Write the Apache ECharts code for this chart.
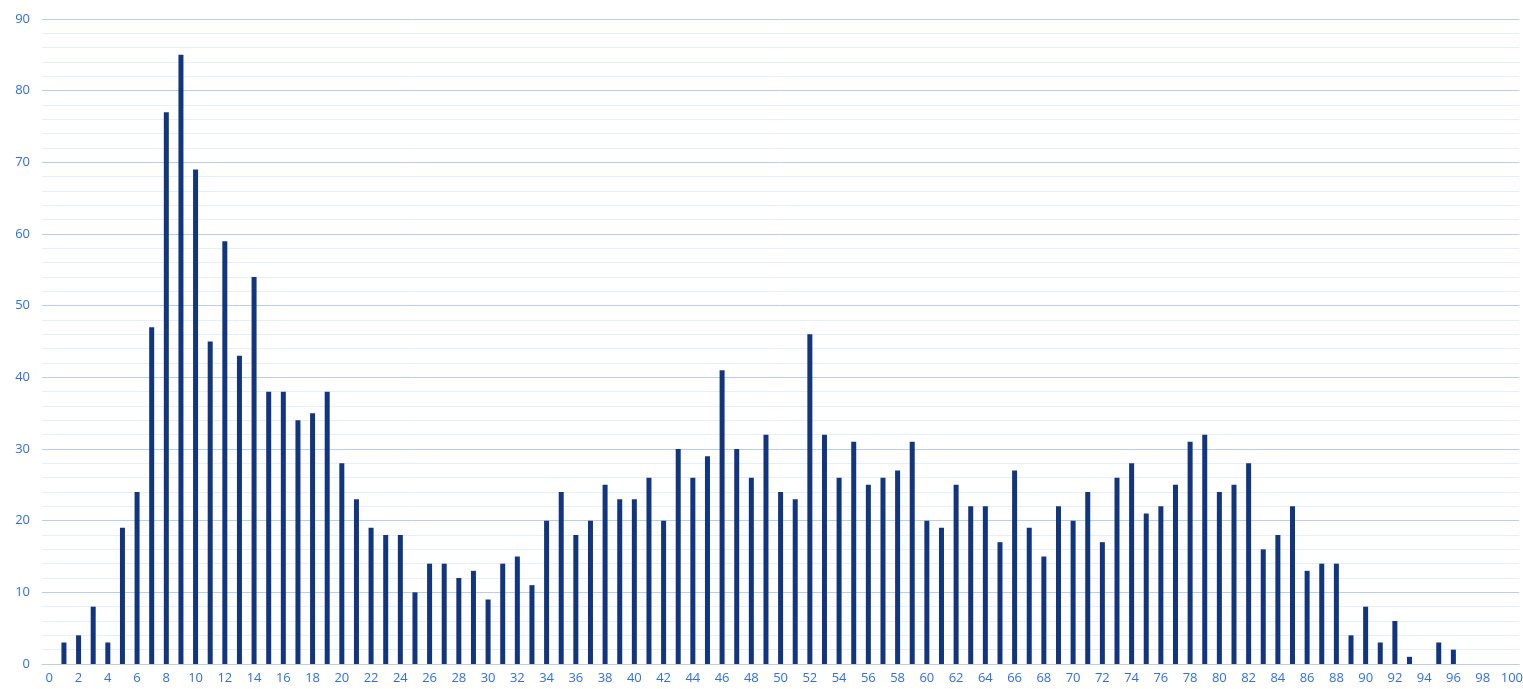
<!DOCTYPE html>
<html>
<head>
<meta charset="utf-8">
<script src="https://cdn.jsdelivr.net/npm/echarts@6/dist/echarts.min.js"></script>
<style>
  html, body { margin: 0; padding: 0; background: #fff; overflow: hidden; }
  #chart { width: 1526px; height: 689px; }
</style>
</head>
<body>
<div id="chart"></div>
<script>
// categories 0..100
var categories = [];
for (var i = 0; i <= 100; i++) categories.push(String(i));

// bar heights, one per category
var counts = [
  0, 3, 4, 8, 3, 19, 24, 47, 77, 85,
  69, 45, 59, 43, 54, 38, 38, 34, 35, 38,
  28, 23, 19, 18, 18, 10, 14, 14, 12, 13,
  9, 14, 15, 11, 20, 24, 18, 20, 25, 23,
  23, 26, 20, 30, 26, 29, 41, 30, 26, 32,
  24, 23, 46, 32, 26, 31, 25, 26, 27, 31,
  20, 19, 25, 22, 22, 17, 27, 19, 15, 22,
  20, 24, 17, 26, 28, 21, 22, 25, 31, 32,
  24, 25, 28, 16, 18, 22, 13, 14, 14, 4,
  8, 3, 6, 1, 0, 3, 2, 0, 0, 0,
  0
];

var yMax = 90;
var yStep = 10;

var labelColor = "#2f6fe4";
var font = "'Open Sans', 'Noto Sans', sans-serif";

var myChart = echarts.init(document.getElementById("chart"));

var option = {
  animation: false,
  grid: { left: 42, right: 0, top: 19, bottom: 25, containLabel: false },
  xAxis: {
    type: "category",
    data: categories,
    boundaryGap: true,
    axisLine: { show: true, lineStyle: { color: "#b8cdf4", width: 1 } },
    axisTick: { show: false },
    axisLabel: {
      interval: 1,
      color: labelColor,
      fontSize: 13,
      fontFamily: font,
      margin: 8
    },
    splitLine: { show: false }
  },
  yAxis: {
    type: "value",
    min: 0,
    max: yMax,
    interval: yStep,
    axisLine: { show: false },
    axisTick: { show: false },
    axisLabel: {
      color: labelColor,
      fontSize: 13,
      fontFamily: font,
      margin: 12
    },
    splitLine: { show: true, lineStyle: { color: "#b8cdf4", width: 1 } },
    minorTick: { show: false, splitNumber: 5 },
    minorSplitLine: { show: true, lineStyle: { color: "#e6eefc", width: 1 } }
  },
  series: [
    {
      type: "bar",
      data: counts,
      barWidth: 5,
      itemStyle: { color: "#12357f" }
    }
  ]
};

myChart.setOption(option);
</script>
</body>
</html>
